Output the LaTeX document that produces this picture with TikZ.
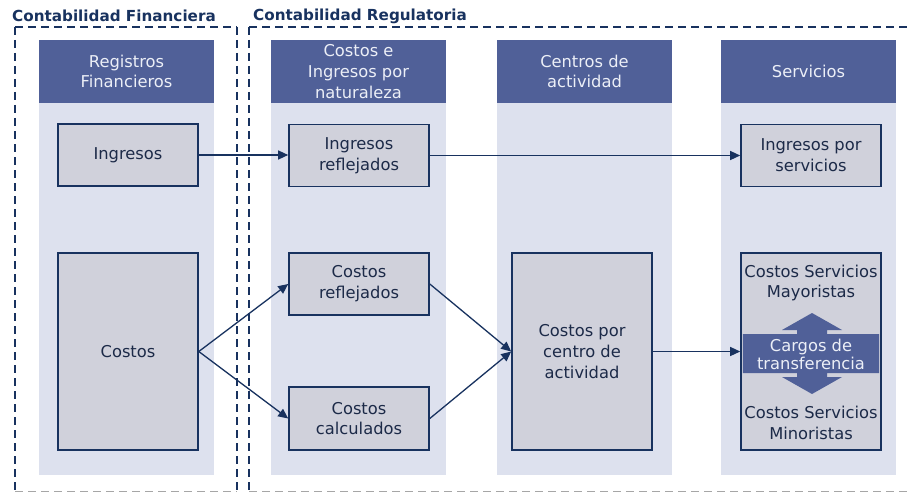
\documentclass[tikz,border=0pt]{standalone}
\usepackage{fontspec}
\setmainfont{DejaVu Sans}
\usetikzlibrary{arrows.meta}
\definecolor{hdr}{RGB}{80,96,152}
\definecolor{hdrtext}{RGB}{236,239,247}
\definecolor{colbg}{RGB}{221,225,238}
\definecolor{boxfill}{RGB}{208,209,219}
\definecolor{navy}{RGB}{24,50,95}
\definecolor{txt}{RGB}{28,42,72}
\begin{document}
\begin{tikzpicture}[x=1pt,y=-1pt,
  bodyfont/.style={font=\fontsize{16.3}{20.8}\selectfont},
  colbody/.style={fill=colbg, draw=none, inner sep=0pt, minimum width=175pt, minimum height=372pt},
  hdrbox/.style={fill=hdr, text=hdrtext, inner sep=0pt, minimum width=175pt, minimum height=63pt, align=center, bodyfont},
  item/.style={draw=navy, line width=1.6pt, fill=boxfill, text=txt, inner sep=0pt, minimum width=140pt, align=center, bodyfont},
  flow/.style={-{Triangle[length=10pt,width=9pt]}, line width=1.3pt, draw=navy},
  frame/.style={draw=navy, dash pattern=on 8pt off 5pt, line width=2pt},
  title/.style={anchor=west, text=navy, inner sep=0pt, font=\fontsize{15.2}{18}\selectfont\bfseries},
  plain/.style={text=txt, inner sep=0pt, align=center, bodyfont}
]
\useasboundingbox (0,0) rectangle (912,492);
\clip (0,0) rectangle (912,492);
\fill[white] (0,0) rectangle (912,492);

% titles
\node[title] (t1) at (12,16) {Contabilidad Financiera};
\node[title] (t2) at (253,16) {Contabilidad Regulatoria};

% frames
\draw[frame] (15,27) -- (15,492.6) (237,27) -- (237,492.6);
\draw[frame] (15,27) -- (237,27);
\draw[frame, draw=gray!70] (15,492.4) -- (237,492.4);
\draw[frame] (249,27) -- (249,492.6) (249,27) -- (940,27);
\draw[frame, draw=gray!70] (249,492.4) -- (940,492.4);

% column bodies
\node[colbody] (c1) at (126.5,289) {};
\node[colbody] (c2) at (358.5,289) {};
\node[colbody] (c3) at (584.5,289) {};
\node[colbody] (c4) at (808.5,289) {};

% headers
\node[hdrbox] (h1) at (126.5,71.5) {Registros\\Financieros};
\node[hdrbox] (h2) at (358.5,71.5) {Costos e\\Ingresos por\\naturaleza};
\node[hdrbox] (h3) at (584.5,71.5) {Centros de\\actividad};
\node[hdrbox] (h4) at (808.5,71.5) {Servicios};

% items
\node[item, minimum height=62pt] (ing) at (128,155) {Ingresos};
\node[item, minimum height=62pt] (ingref) at (359,155.5) {Ingresos\\reflejados};
\node[item, minimum height=62pt] (ingserv) at (811,155.5) {Ingresos por\\servicios};
\node[item, minimum height=197pt] (cost) at (128,351.5) {Costos};
\node[item, minimum height=62pt] (costref) at (359,284) {Costos\\reflejados};
\node[item, minimum height=63pt] (costcalc) at (359,418.5) {Costos\\calculados};
\node[item, minimum height=197pt] (centro) at (582,351.5) {Costos por\\centro de\\actividad};
\node[item, minimum height=197pt] (serv) at (811,351.5) {};

% contents of services box
\node[plain] (may) at (811,283) {Costos Servicios\\Mayoristas};
\node[plain] (min) at (811,423) {Costos Servicios\\Minoristas};
\fill[hdr] (742.8,334) -- (797,334) -- (797,330) -- (782,330) -- (812,313) -- (842,330) -- (827,330) -- (827,334)
  -- (879.2,334) -- (879.2,373) -- (827,373) -- (827,377) -- (842,377) -- (812,394) -- (782,377) -- (797,377)
  -- (797,373) -- (742.8,373) -- cycle;
\node[plain, text=hdrtext, font=\fontsize{16.3}{18}\selectfont] (band) at (811,354) {Cargos de\\transferencia};

% connectors
\draw[flow] (ing.east) -- (ing.east -| ingref.west);
\draw[flow] (ingref.east) -- (ingserv.west);
\draw[flow] (cost.east) -- (costref.west);
\draw[flow] (cost.east) -- (costcalc.west);
\draw[flow] (costref.east) -- (centro.west);
\draw[flow] (costcalc.east) -- (centro.west);
\draw[flow] (centro.east) -- (serv.west);
\end{tikzpicture}
\end{document}
